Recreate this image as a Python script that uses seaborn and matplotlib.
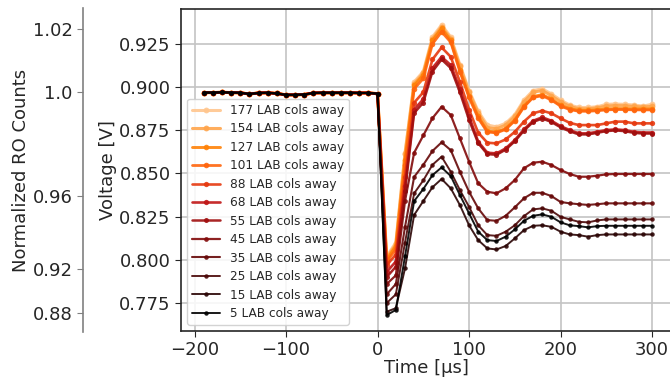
import numpy as np
import pandas as pd
import matplotlib
matplotlib.use("Agg")
import matplotlib.pyplot as plt
import seaborn as sns

# ---------------- data ----------------
time_us = [-190, -180, -170, -160, -150, -140, -130, -120, -110, -100,
           -90, -80, -70, -60, -50, -40, -30, -20, -10, 0,
           10, 20, 30, 40, 50, 60, 70, 80, 90, 100,
           110, 120, 130, 140, 150, 160, 170, 180, 190, 200,
           210, 220, 230, 240, 250, 260, 270, 280, 290, 300]

baseline = [0.8968, 0.8968, 0.8970, 0.8968, 0.8967, 0.8960, 0.8966, 0.8967, 0.8963, 0.8955,
            0.8955, 0.8957, 0.8966, 0.8967, 0.8967, 0.8967, 0.8967, 0.8966, 0.8966, 0.8962]

s177 = [0.802, 0.810, 0.862, 0.903, 0.909, 0.929, 0.936, 0.929, 0.913, 0.898,
        0.886, 0.878, 0.877, 0.879, 0.884, 0.8925, 0.898, 0.899, 0.896, 0.8925,
        0.8896, 0.8882, 0.8882, 0.8886, 0.890, 0.8902, 0.890, 0.8896, 0.889, 0.890]
s154 = [0.801, 0.809, 0.861, 0.902, 0.908, 0.928, 0.935, 0.928, 0.912, 0.897,
        0.885, 0.8765, 0.8758, 0.878, 0.883, 0.8915, 0.897, 0.898, 0.895, 0.8915,
        0.8888, 0.8875, 0.8874, 0.888, 0.889, 0.8893, 0.8892, 0.8888, 0.8885, 0.8888]
s127 = [0.800, 0.808, 0.858, 0.901, 0.907, 0.927, 0.934, 0.927, 0.910, 0.895,
        0.883, 0.8745, 0.874, 0.876, 0.881, 0.889, 0.8945, 0.8956, 0.893, 0.8895,
        0.8875, 0.8865, 0.8865, 0.8868, 0.8873, 0.8875, 0.8875, 0.8873, 0.8873, 0.8873]
s101 = [0.799, 0.806, 0.855, 0.899, 0.905, 0.925, 0.932, 0.926, 0.909, 0.894,
        0.882, 0.874, 0.8735, 0.8755, 0.8805, 0.8885, 0.894, 0.895, 0.8925, 0.889,
        0.887, 0.886, 0.886, 0.8863, 0.8868, 0.887, 0.887, 0.8868, 0.8868, 0.8868]
s88 = [0.797, 0.803, 0.848, 0.891, 0.897, 0.916, 0.923, 0.9175, 0.903, 0.887,
       0.8736, 0.8678, 0.8674, 0.8697, 0.8741, 0.880, 0.8848, 0.8863, 0.8848, 0.8819,
       0.8793, 0.878, 0.878, 0.878, 0.879, 0.880, 0.880, 0.879, 0.879, 0.879]
s68 = [0.793, 0.799, 0.843, 0.887, 0.893, 0.911, 0.9175, 0.9127, 0.899, 0.883,
       0.8684, 0.862, 0.8616, 0.8645, 0.8693, 0.8755, 0.8805, 0.8825, 0.8805, 0.8774,
       0.8751, 0.8732, 0.8732, 0.8741, 0.8751, 0.8755, 0.8751, 0.8741, 0.8737, 0.8737]
s55 = [0.790, 0.796, 0.840, 0.885, 0.891, 0.909, 0.916, 0.911, 0.897, 0.881,
       0.8675, 0.8612, 0.8608, 0.8638, 0.8686, 0.8748, 0.8798, 0.8818, 0.8798, 0.8767,
       0.8744, 0.8726, 0.8726, 0.8735, 0.8745, 0.8749, 0.8745, 0.8735, 0.8731, 0.8731]
s45 = [0.786, 0.791, 0.834, 0.862, 0.872, 0.882, 0.8886, 0.8838, 0.8703, 0.8568,
       0.8443, 0.8394, 0.8385, 0.8414, 0.8462, 0.853, 0.8562, 0.8568, 0.8549, 0.852,
       0.8497, 0.8481, 0.8481, 0.8487, 0.8495, 0.8497, 0.8497, 0.8497, 0.8497, 0.8497]
s35 = [0.780, 0.786, 0.819, 0.848, 0.855, 0.863, 0.868, 0.8635, 0.851, 0.8394,
       0.8298, 0.823, 0.8226, 0.8255, 0.8304, 0.8356, 0.8388, 0.8388, 0.8369, 0.8335,
       0.8327, 0.8322, 0.8318, 0.8322, 0.8327, 0.8327, 0.8327, 0.8327, 0.8327, 0.8327]
s25 = [0.775, 0.780, 0.810, 0.8385, 0.846, 0.855, 0.8597, 0.851, 0.8404, 0.8307,
       0.820, 0.8143, 0.8139, 0.8163, 0.820, 0.8253, 0.8292, 0.8298, 0.8284, 0.8249,
       0.8234, 0.822, 0.8217, 0.8228, 0.8234, 0.8234, 0.8234, 0.8234, 0.8234, 0.8234]
s15 = [0.770, 0.772, 0.795, 0.826, 0.834, 0.842, 0.8468, 0.8414, 0.8317, 0.820,
       0.8114, 0.8066, 0.806, 0.808, 0.8124, 0.8172, 0.8197, 0.820, 0.8191, 0.8163,
       0.8147, 0.8143, 0.8134, 0.8143, 0.8147, 0.8147, 0.8147, 0.8147, 0.8147, 0.8147]
s5 = [0.768, 0.771, 0.802, 0.834, 0.841, 0.849, 0.8535, 0.8485, 0.8375, 0.8269,
      0.8163, 0.8114, 0.8109, 0.8134, 0.8176, 0.8226, 0.8255, 0.8263, 0.8249, 0.8217,
      0.820, 0.8195, 0.8188, 0.8195, 0.8197, 0.8197, 0.8197, 0.8197, 0.8197, 0.8197]

labels = ["177 LAB cols away", "154 LAB cols away", "127 LAB cols away", "101 LAB cols away",
          "88 LAB cols away", "68 LAB cols away", "55 LAB cols away", "45 LAB cols away",
          "35 LAB cols away", "25 LAB cols away", "15 LAB cols away", "5 LAB cols away"]
series = [s177, s154, s127, s101, s88, s68, s55, s45, s35, s25, s15, s5]
colors = ["#ffc68e", "#ffa54c", "#ff8208", "#ff650c", "#e6380e", "#c01616",
          "#a00e0e", "#820a0a", "#660808", "#4a0606", "#2a0404", "#000000"]
linewidths = [2.2, 2.2, 2.1, 2.0, 1.9, 1.9, 1.8, 1.6, 1.5, 1.4, 1.4, 1.4]
markersizes = [4.2, 4.2, 4.0, 4.0, 3.8, 3.8, 3.6, 3.4, 3.3, 3.2, 3.2, 3.2]

ro_tick_labels = ["1.02", "1.0", "0.96", "0.92", "0.88"]
ro_tick_volt = [0.9330, 0.8971, 0.8369, 0.7952, 0.7698]

# ---------------- plot ----------------
sns.set_style("ticks")
plt.rcParams["font.family"] = ["DejaVu Sans"]
plt.rcParams["text.color"] = "#262626"
plt.rcParams["axes.labelcolor"] = "#262626"
plt.rcParams["xtick.color"] = "#262626"
plt.rcParams["ytick.color"] = "#262626"

W, H = 670, 379
fig = plt.figure(figsize=(W / 100, H / 100), dpi=100)
ax = fig.add_axes([181 / W, 1 - 331 / H, (672 - 181) / W, (331 - 9) / H])

rows = []
for lab, vals in zip(labels, series):
    full = baseline + vals
    for t, v in zip(time_us, full):
        rows.append({"time": t, "voltage": v, "label": lab})
df = pd.DataFrame(rows)

for lab, col, lw, ms in zip(labels, colors, linewidths, markersizes):
    sub = df[df["label"] == lab]
    sns.lineplot(data=sub, x="time", y="voltage", ax=ax, color=col, lw=lw,
                 marker="o", markersize=ms, markeredgewidth=0, label=lab,
                 alpha=0.9)

ax.set_xlim(-214.8, 321.8)
ax.set_ylim(0.7588, 0.9452)
ax.set_xticks([-200, -100, 0, 100, 200, 300])
ax.set_yticks([0.775, 0.800, 0.825, 0.850, 0.875, 0.900, 0.925])
ax.set_yticklabels(["0.775", "0.800", "0.825", "0.850", "0.875", "0.900", "0.925"])
ax.grid(True, color="#c4c4c4", lw=1.2)
ax.set_axisbelow(True)
ax.tick_params(labelsize=13, length=4, width=0.8)
ax.set_xlabel("Time [\u03bcs]", fontsize=13, labelpad=0)
ax.set_ylabel("Voltage [V]", fontsize=13, labelpad=1.5)
for s in ax.spines.values():
    s.set_color("#262626")
    s.set_linewidth(1.2)

leg = ax.legend(loc="lower left", fontsize=8.75, labelspacing=0.45,
                handlelength=2.3, borderaxespad=0.5, framealpha=0.85,
                edgecolor="#cccccc")

# secondary "Normalized RO Counts" axis
ax2 = fig.add_axes([83 / W, 1 - 332 / H, 0.0005, (332 - 8) / H])
ax2.set_ylim(ax.get_ylim())
ax2.patch.set_alpha(0)
for k in ["top", "right", "bottom"]:
    ax2.spines[k].set_visible(False)
ax2.spines["left"].set_color("#808080")
ax2.spines["left"].set_linewidth(1.2)
ax2.set_xticks([])
ax2.set_yticks(ro_tick_volt)
ax2.set_yticklabels(ro_tick_labels)
ax2.tick_params(axis="y", labelsize=13, length=4, color="#808080")
ax2.set_ylabel("Normalized RO Counts", fontsize=13, labelpad=2)

fig.savefig("out.png", dpi=100)
